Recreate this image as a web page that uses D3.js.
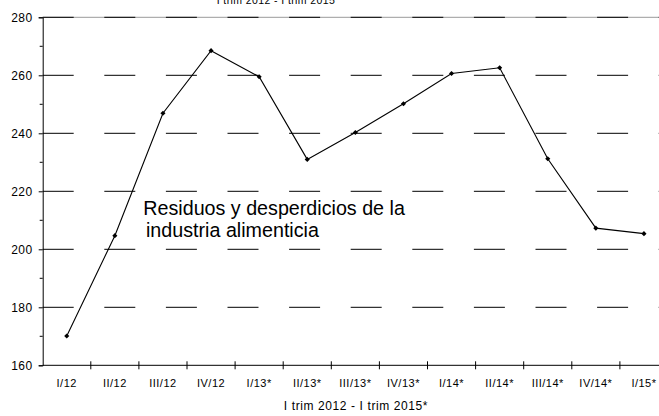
<!DOCTYPE html>
<html>
<head>
<meta charset="utf-8">
<script src="https://cdn.jsdelivr.net/npm/d3@7"></script>
<style>
  html, body { margin: 0; padding: 0; background: #fff; }
  svg { display: block; font-family: "Liberation Sans", Arial, sans-serif; }
</style>
</head>
<body>
<svg id="chart" width="659" height="416"></svg>
<script>
// data
var categories = ["I/12", "II/12", "III/12", "IV/12", "I/13*", "II/13*", "III/13*", "IV/13*",
                  "I/14*", "II/14*", "III/14*", "IV/14*", "I/15*"];
var values = [170.1, 204.7, 246.9, 268.5, 259.5, 231.0, 240.3, 250.2, 260.6, 262.6, 231.2, 207.3, 205.4];
var yTicks = [160, 180, 200, 220, 240, 260, 280];
var yMinorTicks = [170, 190, 210, 230, 250, 270];
var gridValues = [180, 200, 220, 240, 260, 280];
var topTitle = "I trim 2012 - I trim 2015";
var bottomTitle = "I trim 2012 - I trim 2015*";
var noteLines = ["Residuos y desperdicios de la", "industria alimenticia"];

var svg = d3.select("#chart");
var plotLeft = 42.7, bandW = 48.1;
var plotRight = plotLeft + bandW * categories.length;
var plotTop = 17.3, plotBottom = 365.3;

var x = d3.scaleBand().domain(categories).range([plotLeft, plotRight]).padding(0);
var y = d3.scaleLinear().domain([160, 280]).range([plotBottom, plotTop]);

// top frame line (gray)
svg.append("line")
    .attr("x1", plotLeft).attr("x2", plotRight)
    .attr("y1", y(280)).attr("y2", y(280))
    .attr("stroke", "#9a9a9a").attr("stroke-width", 1);

// dashed grid
svg.append("g").selectAll("line")
    .data(gridValues)
    .enter()
    .append("line")
    .attr("x1", plotLeft).attr("x2", plotRight)
    .attr("y1", function (d) { return y(d); })
    .attr("y2", function (d) { return y(d); })
    .attr("stroke", "#000")
    .attr("stroke-width", 1)
    .attr("stroke-dasharray", "31,30.6");

// y axis
var yAxis = d3.axisLeft(y).tickValues(yTicks).tickSize(4).tickPadding(6);
var gy = svg.append("g").attr("transform", "translate(" + plotLeft + ",0)").call(yAxis);
gy.select(".domain").attr("stroke", "#000");
gy.selectAll(".tick line").attr("stroke", "#000");
gy.selectAll(".tick text")
    .attr("fill", "#000")
    .style("font-size", "12px")
    .style("letter-spacing", "0.5px")
    .style("font-family", "'Liberation Sans', Arial, sans-serif");

// minor y ticks
svg.append("g").selectAll("line")
    .data(yMinorTicks)
    .enter()
    .append("line")
    .attr("x1", plotLeft - 3).attr("x2", plotLeft)
    .attr("y1", function (d) { return y(d); })
    .attr("y2", function (d) { return y(d); })
    .attr("stroke", "#000");

// x axis line + band boundary ticks
svg.append("line")
    .attr("x1", plotLeft).attr("x2", plotRight)
    .attr("y1", plotBottom).attr("y2", plotBottom)
    .attr("stroke", "#000");
svg.append("g").selectAll("line")
    .data(categories.slice(1))
    .enter()
    .append("line")
    .attr("x1", function (d) { return x(d); })
    .attr("x2", function (d) { return x(d); })
    .attr("y1", plotBottom - 4).attr("y2", plotBottom + 4)
    .attr("stroke", "#000");

// x labels
svg.append("g").selectAll("text")
    .data(categories)
    .enter()
    .append("text")
    .attr("x", function (d) { return x(d) + x.bandwidth() / 2; })
    .attr("y", 387)
    .attr("text-anchor", "middle")
    .style("font-size", "11px")
    .style("letter-spacing", "0.5px")
    .text(function (d) { return d; });

// titles
svg.append("text")
    .attr("x", 276).attr("y", 4)
    .attr("text-anchor", "middle")
    .style("font-size", "10.5px")
    .style("letter-spacing", "0.4px")
    .text(topTitle);
svg.append("text")
    .attr("x", 356).attr("y", 410)
    .attr("text-anchor", "middle")
    .style("font-size", "12px")
    .style("letter-spacing", "0.6px")
    .text(bottomTitle);

// series
var line = d3.line()
    .x(function (d, i) { return x(categories[i]) + x.bandwidth() / 2; })
    .y(function (d) { return y(d); });
svg.append("path")
    .datum(values)
    .attr("d", line)
    .attr("fill", "none")
    .attr("stroke", "#000")
    .attr("stroke-width", 1.1);

svg.append("g").selectAll("path")
    .data(values)
    .enter()
    .append("path")
    .attr("d", d3.symbol(d3.symbolSquare).size(13))
    .attr("transform", function (d, i) {
        return "translate(" + (x(categories[i]) + x.bandwidth() / 2) + "," + y(d) + ") rotate(45)";
    })
    .attr("fill", "#000");

// annotation
svg.append("text")
    .attr("x", 143.3).attr("y", 215)
    .style("font-size", "19.7px")
    .text(noteLines[0]);
svg.append("text")
    .attr("x", 146).attr("y", 236.7)
    .style("font-size", "19.7px")
    .text(noteLines[1]);
</script>
</body>
</html>
